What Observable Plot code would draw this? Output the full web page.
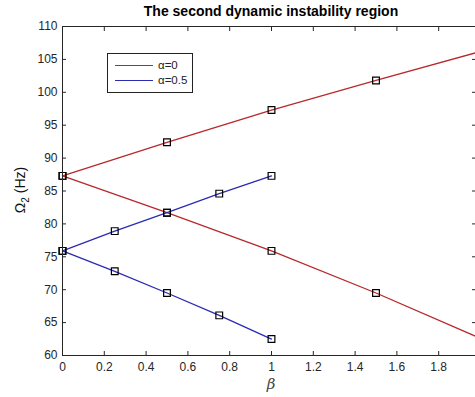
<!DOCTYPE html>
<html>
<head>
<meta charset="utf-8">
<script src="https://cdn.jsdelivr.net/npm/d3@7"></script>
<script src="https://cdn.jsdelivr.net/npm/@observablehq/plot@0.6"></script>
<style>
  html, body { margin: 0; padding: 0; background: #fff; }
  #wrap { position: relative; width: 475px; height: 397px; overflow: hidden; font-family: "Liberation Sans", Arial, sans-serif; }
  #title { position: absolute; left: 62px; width: 418px; top: 3px; text-align: center; font-weight: bold; font-size: 14px; color: #000; }
  #legend { position: absolute; left: 107px; top: 53px; width: 86px; height: 40px; border: 1px solid #222; background: #fff; box-sizing: border-box; font-size: 11.5px; color: #222; }
  .lg { position: absolute; left: 7px; display: flex; align-items: center; }
  .lg span.sw { display: inline-block; width: 38px; height: 0; border-top: 1.3px solid; margin-right: 5px; }
</style>
</head>
<body>
<div id="wrap">
  <div id="chart"></div>
  <div id="title">The second dynamic instability region</div>
  <div id="legend"></div>
</div>
<script>
// Data
const beta0 = [0, 0.5, 1, 1.5, 2];
const alpha0Upper = [87.3, 92.4, 97.3, 101.8, 106.2];
const alpha0Lower = [87.3, 81.7, 75.9, 69.5, 62.6];
const beta05 = [0, 0.25, 0.5, 0.75, 1];
const alpha05Upper = [75.9, 78.9, 81.7, 84.6, 87.3];
const alpha05Lower = [75.9, 72.8, 69.5, 66.1, 62.5];
const seriesNames = ["\u03b1=0", "\u03b1=0.5"];
const seriesColors = ["#b8282a", "#2a2ab4"];
const xTicks = [0, 0.2, 0.4, 0.6, 0.8, 1, 1.2, 1.4, 1.6, 1.8, 2];
const xTickLabels = [0, 0.2, 0.4, 0.6, 0.8, 1, 1.2, 1.4, 1.6, 1.8];
const yTicks = [60, 65, 70, 75, 80, 85, 90, 95, 100, 105, 110];

const rows = [];
function addLine(xs, ys, name, branch) {
  xs.forEach((x, i) => rows.push({x, y: ys[i], series: name, key: name + branch}));
}
addLine(beta0, alpha0Upper, seriesNames[0], "u");
addLine(beta0, alpha0Lower, seriesNames[0], "l");
addLine(beta05, alpha05Upper, seriesNames[1], "u");
addLine(beta05, alpha05Lower, seriesNames[1], "l");

const font = "'Liberation Sans', Arial, sans-serif";
const plot = Plot.plot({
  width: 475,
  height: 397,
  marginLeft: 62,
  marginRight: 0,
  marginTop: 26,
  marginBottom: 42,
  style: {fontFamily: font, fontSize: "12px", color: "#262626", background: "#fff", overflow: "hidden"},
  x: {domain: [0, 2], range: [62, 480]},
  y: {domain: [60, 110]},
  color: {domain: seriesNames, range: seriesColors},
  marks: [
    Plot.line(rows, {x: "x", y: "y", z: "key", stroke: "series", strokeWidth: 1.3}),
    Plot.dot(rows, {x: "x", y: "y", symbol: "square", r: 3.8, stroke: "#000", fill: "none", strokeWidth: 1.2}),
    Plot.ruleX([0], {stroke: "#262626"}),
    Plot.ruleY([60, 110], {stroke: "#262626"}),
    Plot.axisX({anchor: "bottom", ticks: xTicks, tickSize: -4, text: null, label: null, stroke: "#262626"}),
    Plot.axisX({anchor: "top", ticks: xTicks, tickSize: -4, text: null, label: null, stroke: "#262626"}),
    Plot.axisY({anchor: "left", ticks: yTicks, tickSize: -4, text: null, label: null, stroke: "#262626"}),
    Plot.axisY({anchor: "right", ticks: yTicks, tickSize: -4, text: null, label: null, stroke: "#262626"}),
    Plot.axisX({anchor: "bottom", ticks: xTickLabels, tickSize: 0, tickPadding: 7, tickFormat: d3.format("~g"), label: null, fontSize: 12, fill: "#262626"}),
    Plot.axisY({anchor: "left", ticks: yTicks, tickSize: 0, tickPadding: 5, label: null, fontSize: 12, fill: "#262626"})
  ]
});
// Axis labels as text in the SVG
const svg = d3.select(plot);
svg.append("text")
  .attr("x", 271).attr("y", 389)
  .attr("text-anchor", "middle")
  .attr("font-size", 15).attr("font-style", "italic")
  .attr("font-family", "'DejaVu Serif', serif")
  .attr("fill", "#444")
  .text("\u03b2");
const yl = svg.append("text")
  .attr("transform", "translate(25,190) rotate(-90)")
  .attr("text-anchor", "middle")
  .attr("font-size", 14).attr("fill", "#111");
yl.append("tspan").text("\u03a9");
yl.append("tspan").attr("dy", 4).attr("font-size", 10).text("2");
yl.append("tspan").attr("dy", -4).text(" (Hz)");
document.getElementById("chart").appendChild(plot);

// Legend
const legend = document.getElementById("legend");
seriesNames.forEach((name, i) => {
  const d = document.createElement("div");
  d.className = "lg";
  d.style.top = (5 + i * 15) + "px";
  const sw = document.createElement("span");
  sw.className = "sw";
  sw.style.borderColor = seriesColors[i];
  const t = document.createElement("span");
  t.textContent = name;
  d.appendChild(sw); d.appendChild(t);
  legend.appendChild(d);
});
</script>
</body>
</html>
